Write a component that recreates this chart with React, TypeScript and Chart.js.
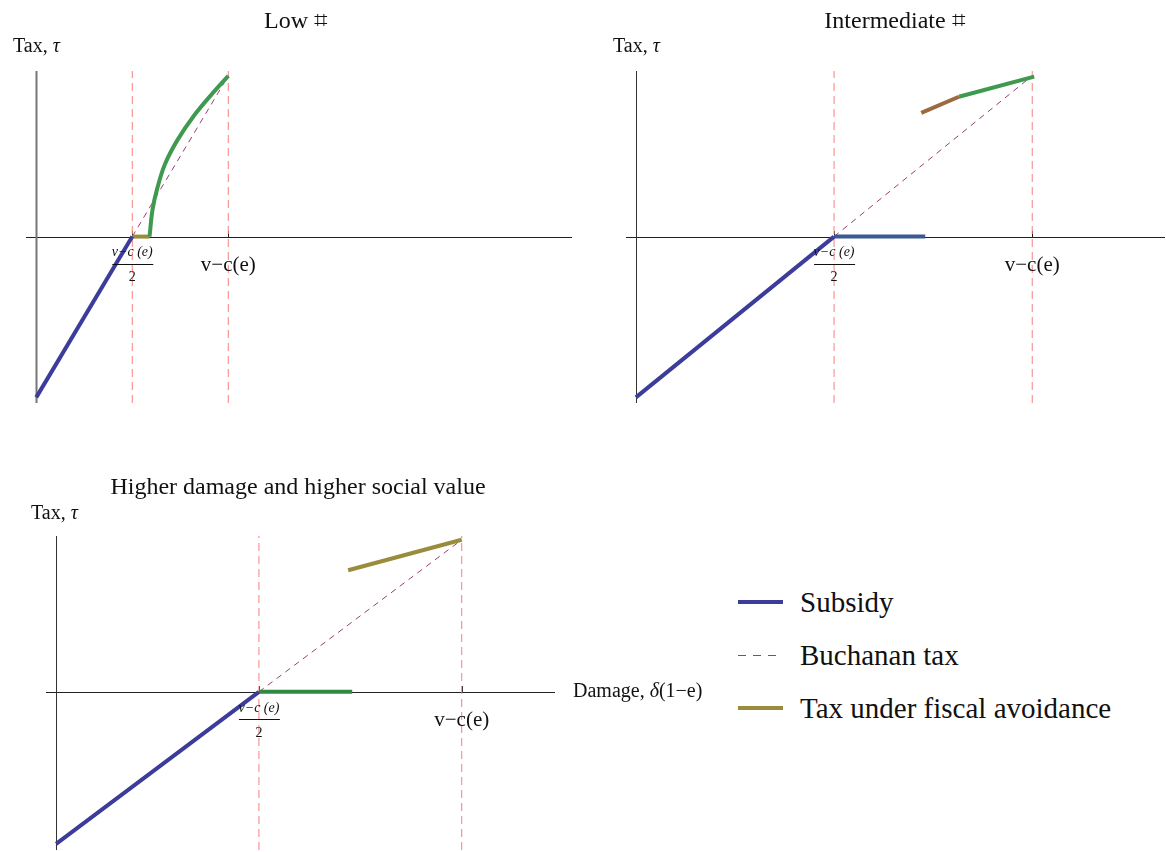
import React, { useEffect, useRef } from "react";
import { Chart, registerables } from "chart.js";
Chart.register(...registerables);

// ---------------- data ----------------
// Panel 1 : Low ⌗
const lowSubsidyX = [0, 1];
const lowSubsidyY = [-2, 0];
const lowBuchananX = [1, 2];
const lowBuchananY = [0, 2];
const lowAvoidFlatX = [1, 1.18];
const lowAvoidFlatY = [0, 0];
const lowAvoidCurveX = [1.18, 1.21, 1.26, 1.34, 1.47, 1.64, 1.82, 2.0];
const lowAvoidCurveY = [0, 0.33, 0.6, 0.9, 1.2, 1.5, 1.76, 2.0];

// Panel 2 : Intermediate ⌗
const midSubsidyX = [0, 1];
const midSubsidyY = [-2, 0];
const midFlatX = [1, 1.46];
const midFlatY = [0, 0];
const midBuchananX = [1, 2];
const midBuchananY = [0, 2];
const midLowerX = [1.44, 1.63];
const midLowerY = [1.54, 1.74];
const midUpperX = [1.63, 2.01];
const midUpperY = [1.74, 1.99];

// Panel 3 : Higher damage and higher social value
const highSubsidyX = [0, 1];
const highSubsidyY = [-2, 0];
const highFlatX = [1, 1.46];
const highFlatY = [0, 0];
const highBuchananX = [1, 2];
const highBuchananY = [0, 2];
const highAvoidX = [1.44, 2.0];
const highAvoidY = [1.6, 2.0];

// markers on the damage axis: (v−c(e))/2 and v−c(e)
const markerX = [1, 2];
const fracNumerator = "v−c (e)";
const fracDenominator = "2";
const fullTickLabel = "v−c(e)";

const panelTitles = ["Low ⌗", "Intermediate ⌗", "Higher damage and higher social value"];
const yLabelRuns = [
  { text: "Tax, ", italic: false },
  { text: "τ", italic: true },
];
const xLabelRuns = [
  { text: "Damage, ", italic: false },
  { text: "δ", italic: true },
  { text: "(1−e)", italic: false },
];
const legendLabels = ["Subsidy", "Buchanan tax", "Tax under fiscal avoidance"];

// ---------------- styles ----------------
const SERIF = '"Liberation Serif", "Times New Roman", serif';
const C_SUBSIDY = "#3c3c9b";
const C_BUCHANAN = "#9b3d72";
const C_AVOID = "#9a8c3d";
const C_GREEN = "#3f9a50";
const C_BROWN = "#9c6a3e";
const C_MARK = "#f58080";
const C_FLAT2 = "#3a5a92";
const C_FLAT3 = "#2f8a3f";

type Seg = {
  xs: number[];
  ys: number[];
  color: string;
  width: number;
  dash?: number[];
  smooth?: boolean;
  order: number;
};

type Run = { text: string; italic: boolean };

type PanelSpec = {
  left: number;
  top: number;
  width: number;
  height: number;
  padding: { left: number; right: number; top: number; bottom: number };
  xMin: number;
  xMax: number;
  yMin: number;
  yMax: number;
  segs: Seg[];
  title: string;
  titleX: number;
  titleY: number;
  yLabelX: number;
  yLabelY: number;
  yAxisColor: string;
  yAxisWidth: number;
  xLabel?: { x: number; y: number };
};

function pts(xs: number[], ys: number[]) {
  return xs.map((x, i) => ({ x, y: ys[i] }));
}

function drawRuns(ctx: CanvasRenderingContext2D, runs: Run[], size: number, x: number, y: number, align: "left" | "center") {
  const fontFor = (r: Run) => `${r.italic ? "italic " : ""}${size}px ${SERIF}`;
  let total = 0;
  for (const r of runs) {
    ctx.font = fontFor(r);
    total += ctx.measureText(r.text).width;
  }
  let cx = align === "center" ? x - total / 2 : x;
  ctx.textAlign = "left";
  ctx.textBaseline = "middle";
  for (const r of runs) {
    ctx.font = fontFor(r);
    ctx.fillText(r.text, cx, y);
    cx += ctx.measureText(r.text).width;
  }
}

function makeDecor(spec: PanelSpec) {
  return {
    id: "decor",
    beforeDatasetsDraw(chart: any) {
      const ctx: CanvasRenderingContext2D = chart.ctx;
      const xs = chart.scales.x;
      const ys = chart.scales.y;
      const { left, right, top, bottom } = chart.chartArea;
      const x0 = Math.round(xs.getPixelForValue(0));
      const y0 = Math.round(ys.getPixelForValue(0));
      ctx.save();
      // horizontal axis
      ctx.strokeStyle = "#222";
      ctx.lineWidth = 1;
      ctx.beginPath();
      ctx.moveTo(left, y0 + 0.5);
      ctx.lineTo(right, y0 + 0.5);
      ctx.stroke();
      // vertical axis
      ctx.strokeStyle = spec.yAxisColor;
      ctx.lineWidth = spec.yAxisWidth;
      ctx.beginPath();
      ctx.moveTo(x0 + 0.5, top);
      ctx.lineTo(x0 + 0.5, bottom);
      ctx.stroke();
      // ticks
      ctx.strokeStyle = "#222";
      ctx.lineWidth = 1;
      for (const v of markerX) {
        const px = Math.round(xs.getPixelForValue(v)) + 0.5;
        ctx.beginPath();
        ctx.moveTo(px, y0 - 6);
        ctx.lineTo(px, y0 + 1);
        ctx.stroke();
      }
      ctx.restore();
    },
    afterDraw(chart: any) {
      const ctx: CanvasRenderingContext2D = chart.ctx;
      const xs = chart.scales.x;
      const ys = chart.scales.y;
      const y0 = ys.getPixelForValue(0);
      ctx.save();
      ctx.fillStyle = "#111";
      // title
      drawRuns(ctx, [{ text: spec.title, italic: false }], 24, spec.titleX, spec.titleY, "center");
      // y label
      drawRuns(ctx, yLabelRuns, 20, spec.yLabelX, spec.yLabelY, "left");
      // x label
      if (spec.xLabel) drawRuns(ctx, xLabelRuns, 20, spec.xLabel.x, spec.xLabel.y, "left");
      // fraction tick label at marker 1
      const fx = xs.getPixelForValue(markerX[0]);
      drawRuns(ctx, [{ text: fracNumerator, italic: true }], 14, fx, y0 + 16, "center");
      ctx.strokeStyle = "#111";
      ctx.lineWidth = 1;
      ctx.beginPath();
      ctx.moveTo(fx - 20, Math.round(y0 + 27) + 0.5);
      ctx.lineTo(fx + 21, Math.round(y0 + 27) + 0.5);
      ctx.stroke();
      drawRuns(ctx, [{ text: fracDenominator, italic: false }], 14, fx, y0 + 41, "center");
      // full tick label at marker 2
      const gx = xs.getPixelForValue(markerX[1]);
      drawRuns(ctx, [{ text: fullTickLabel, italic: false }], 21, gx, y0 + 29, "center");
      ctx.restore();
    },
  };
}

function Panel({ spec }: { spec: PanelSpec }) {
  const ref = useRef<HTMLCanvasElement | null>(null);
  useEffect(() => {
    if (!ref.current) return;
    const datasets: any[] = [];
    for (const v of markerX) {
      datasets.push({
        data: [
          { x: v, y: spec.yMin },
          { x: v, y: spec.yMax },
        ],
        showLine: true,
        borderColor: C_MARK,
        borderWidth: 1,
        borderDash: [8, 5],
        pointRadius: 0,
        order: 20,
      });
    }
    for (const s of spec.segs) {
      datasets.push({
        data: pts(s.xs, s.ys),
        showLine: true,
        borderColor: s.color,
        borderWidth: s.width,
        borderDash: s.dash || [],
        borderCapStyle: "butt",
        pointRadius: 0,
        fill: false,
        tension: s.smooth ? 0.35 : 0,
        clip: false,
        order: s.order,
      });
    }
    const chart = new Chart(ref.current, {
      type: "scatter",
      data: { datasets },
      options: {
        animation: false,
        responsive: false,
        maintainAspectRatio: false,
        events: [],
        layout: { padding: spec.padding },
        scales: {
          x: { type: "linear", min: spec.xMin, max: spec.xMax, display: false },
          y: { type: "linear", min: spec.yMin, max: spec.yMax, display: false },
        },
        plugins: {
          legend: { display: false },
          tooltip: { enabled: false },
          title: { display: false },
        },
      },
      plugins: [makeDecor(spec)],
    } as any);
    return () => chart.destroy();
  }, [spec]);
  return (
    <canvas
      ref={ref}
      width={spec.width}
      height={spec.height}
      style={{ position: "absolute", left: spec.left, top: spec.top, width: spec.width, height: spec.height }}
    />
  );
}

const panels: PanelSpec[] = [
  {
    left: 0,
    top: 0,
    width: 580,
    height: 420,
    padding: { left: 26, right: 8, top: 71, bottom: 17 },
    xMin: -0.107,
    xMax: 5.58,
    yMin: -2.07,
    yMax: 2.06,
    segs: [
      { xs: lowBuchananX, ys: lowBuchananY, color: C_BUCHANAN, width: 1, dash: [6, 5], order: 10 },
      { xs: lowSubsidyX, ys: lowSubsidyY, color: C_SUBSIDY, width: 4, order: 1 },
      { xs: lowAvoidFlatX, ys: lowAvoidFlatY, color: C_AVOID, width: 4, order: 2 },
      { xs: lowAvoidCurveX, ys: lowAvoidCurveY, color: C_GREEN, width: 4, smooth: true, order: 1 },
    ],
    title: panelTitles[0],
    titleX: 296,
    titleY: 22,
    yLabelX: 13,
    yLabelY: 47,
    yAxisColor: "#777",
    yAxisWidth: 2,
  },
  {
    left: 590,
    top: 0,
    width: 576,
    height: 420,
    padding: { left: 36, right: 1, top: 71, bottom: 17 },
    xMin: -0.05,
    xMax: 2.67,
    yMin: -2.07,
    yMax: 2.06,
    segs: [
      { xs: midBuchananX, ys: midBuchananY, color: C_BUCHANAN, width: 1, dash: [6, 5], order: 10 },
      { xs: midSubsidyX, ys: midSubsidyY, color: C_SUBSIDY, width: 4, order: 1 },
      { xs: midFlatX, ys: midFlatY, color: C_FLAT2, width: 4, order: 2 },
      { xs: midLowerX, ys: midLowerY, color: C_BROWN, width: 4, order: 2 },
      { xs: midUpperX, ys: midUpperY, color: C_GREEN, width: 4, order: 1 },
    ],
    title: panelTitles[1],
    titleX: 305,
    titleY: 22,
    yLabelX: 23,
    yLabelY: 47,
    yAxisColor: "#333",
    yAxisWidth: 1,
  },
  {
    left: 0,
    top: 440,
    width: 720,
    height: 412,
    padding: { left: 46, right: 165, top: 96, bottom: 2 },
    xMin: -0.05,
    xMax: 2.46,
    yMin: -2.08,
    yMax: 2.05,
    segs: [
      { xs: highBuchananX, ys: highBuchananY, color: C_BUCHANAN, width: 1, dash: [6, 5], order: 10 },
      { xs: highSubsidyX, ys: highSubsidyY, color: C_SUBSIDY, width: 4, order: 1 },
      { xs: highFlatX, ys: highFlatY, color: C_FLAT3, width: 4, order: 2 },
      { xs: highAvoidX, ys: highAvoidY, color: C_AVOID, width: 4, order: 1 },
    ],
    title: panelTitles[2],
    titleX: 298,
    titleY: 48,
    yLabelX: 31,
    yLabelY: 74,
    yAxisColor: "#333",
    yAxisWidth: 1,
    xLabel: { x: 573, y: 252 },
  },
];

const legendColors = [C_SUBSIDY, C_BUCHANAN, C_AVOID];
const legendDashed = [false, true, false];
const legendY = [602, 655, 708];

export default function App() {
  return (
    <div style={{ position: "absolute", left: 0, top: 0, width: 1166, height: 852, background: "#fff", overflow: "hidden" }}>
      {panels.map((p, i) => (
        <Panel key={i} spec={p} />
      ))}
      {legendLabels.map((label, i) => (
        <div key={label} style={{ position: "absolute", left: 738, top: legendY[i] - 20, height: 40, display: "flex", alignItems: "center" }}>
          <div
            style={
              legendDashed[i]
                ? {
                    width: 45,
                    height: 1,
                    background: `repeating-linear-gradient(to right, ${legendColors[i]} 0px, ${legendColors[i]} 8px, transparent 8px, transparent 15px)`,
                  }
                : { width: 45, height: 4, background: legendColors[i] }
            }
          />
          <span style={{ marginLeft: 17, fontFamily: SERIF, fontSize: 29, color: "#111", whiteSpace: "nowrap", lineHeight: "40px" }}>
            {label}
          </span>
        </div>
      ))}
    </div>
  );
}
